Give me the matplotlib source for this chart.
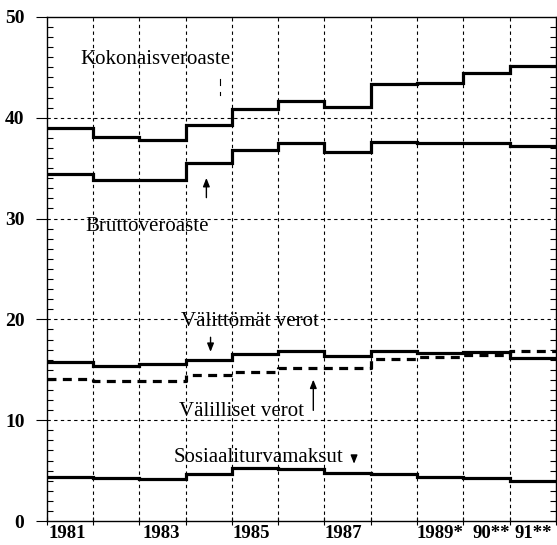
import matplotlib
matplotlib.use("Agg")
import matplotlib.pyplot as plt
import numpy as np
from matplotlib.ticker import FixedLocator, MultipleLocator

years = ["1981", "1982", "1983", "1984", "1985", "1986", "1987", "1988", "1989*", "90**", "91**"]
tick_labels = ["1981", "1983", "1985", "1987", "1989*", "90**", "91**"]

kokonais = [39.0, 38.1, 37.8, 39.3, 40.9, 41.7, 41.1, 43.3, 43.4, 44.4, 45.1]
brutto = [34.4, 33.8, 33.8, 35.5, 36.8, 37.5, 36.6, 37.6, 37.5, 37.5, 37.2]
valittomat = [15.8, 15.4, 15.55, 16.0, 16.6, 16.9, 16.4, 16.9, 16.7, 16.75, 16.2]
valilliset = [14.05, 13.9, 13.9, 14.5, 14.8, 15.2, 15.2, 16.05, 16.25, 16.45, 16.9]
sosiaali = [4.4, 4.3, 4.17, 4.7, 5.3, 5.2, 4.8, 4.66, 4.4, 4.25, 4.0]

serif = ["Liberation Serif", "DejaVu Serif"]

fig = plt.figure(figsize=(5.57, 5.45), dpi=100)
ax = fig.add_axes([0.0838, 0.044, 0.9142, 0.925])

n = len(years)
x = np.arange(n + 1)

def step(vals, **kw):
    v = list(vals) + [vals[-1]]
    ax.step(x, v, where="post", color="black", **kw)

step(kokonais, lw=2.3, solid_joinstyle="miter")
step(brutto, lw=2.3, solid_joinstyle="miter")
step(valittomat, lw=2.3, solid_joinstyle="miter")
step(valilliset, lw=2.3, linestyle=(0, (2.8, 2.0)))
step(sosiaali, lw=2.3, solid_joinstyle="miter")

ax.set_xlim(0, n)
ax.set_ylim(0, 50)

# grid
for xi in range(1, n):
    ax.axvline(xi, color="black", lw=0.8, linestyle=(0, (3, 3)), zorder=0)
for yi in [10, 20, 30, 40]:
    ax.axhline(yi, color="black", lw=0.8, linestyle=(0, (3, 3)), zorder=0)

# x ticks: marks at year boundaries, labels within year segments
ax.xaxis.set_major_locator(FixedLocator(list(range(0, n + 1))))
ax.set_xticklabels([])
ax.tick_params(axis="x", which="major", direction="inout", length=6, width=0.8)
label_offsets = [0.45, 0.48, 0.43, 0.4, 0.5, 0.6, 0.52]
minor_pos = [years.index(t) + o for t, o in zip(tick_labels, label_offsets)]
ax.xaxis.set_minor_locator(FixedLocator(minor_pos))
ax.set_xticklabels(tick_labels, minor=True)
ax.tick_params(axis="x", which="minor", length=0, pad=3)
for lab in ax.get_xticklabels(minor=True):
    lab.set_fontfamily(serif)
    lab.set_fontweight("bold")
    lab.set_fontsize(13.5)

# y ticks
ax.yaxis.set_major_locator(MultipleLocator(10))
ax.yaxis.set_minor_locator(MultipleLocator(1))
ax.tick_params(axis="y", which="major", direction="out", length=8, width=0.8, pad=8)
ax.tick_params(axis="y", which="minor", direction="in", length=4, width=0.8, right=True)
for lab in ax.get_yticklabels():
    lab.set_fontfamily(serif)
    lab.set_fontweight("bold")
    lab.set_fontsize(14)

for s in ax.spines.values():
    s.set_linewidth(1.0)

tkw = dict(family=serif, fontsize=15, ha="center", va="baseline", color="black")
ax.text(2.34, 45.3, "Kokonaisveroaste", **tkw)
ax.text(2.18, 28.8, "Bruttoveroaste", **tkw)
ax.text(4.39, 19.35, "Välittömät verot", **tkw)
ax.text(4.21, 10.4, "Välilliset verot", **tkw)
ax.text(4.58, 5.9, "Sosiaaliturvamaksut", **tkw)

akw = dict(arrowstyle="-|>,head_length=0.5,head_width=0.2", color="black", lw=1.0)
ax.annotate("", xy=(3.45, 34.3), xytext=(3.45, 31.8), arrowprops=akw)
ax.annotate("", xy=(3.54, 16.5), xytext=(3.54, 18.5), arrowprops=akw)
ax.annotate("", xy=(5.76, 14.3), xytext=(5.76, 10.7), arrowprops=akw)
ax.annotate("", xy=(6.64, 5.4), xytext=(6.64, 6.5), arrowprops=akw)
ax.plot([3.75, 3.75], [43.8, 43.2], color="black", lw=0.8)
ax.plot([3.75, 3.75], [42.6, 42.3], color="black", lw=0.8)

fig.savefig("out.png", dpi=100)
